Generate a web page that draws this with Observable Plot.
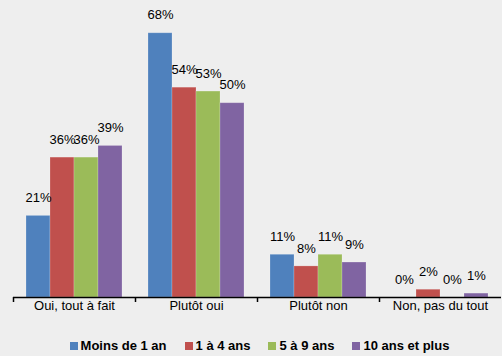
<!DOCTYPE html>
<html>
<head>
<meta charset="utf-8">
<script src="https://cdn.jsdelivr.net/npm/d3@7"></script>
<script src="https://cdn.jsdelivr.net/npm/@observablehq/plot@0.6"></script>
<style>
  html, body { margin: 0; padding: 0; background: #eeeeee; }
  #wrap { width: 502px; height: 356px; overflow: hidden; font-family: "Liberation Sans", Arial, sans-serif; }
  #wrap > div { font-family: "Liberation Sans", Arial, sans-serif !important; font-size: 13px !important; font-weight: bold !important;
        color: #000 !important; display: flex !important; align-items: center !important; justify-content: center !important;
        margin: 0 !important; padding: 0 0 0 17px !important; min-height: 0 !important; height: 16px !important; margin-top: 18px !important;
        line-height: 16px !important; }
  #wrap > div > span { display: inline-flex !important; align-items: center !important; margin-right: 18px !important; margin-left: 0 !important; }
  #wrap > div > span:last-child { margin-right: 0 !important; }
  #wrap > div > span > svg { margin-right: 3px !important; }
</style>
</head>
<body>
<div id="wrap"></div>
<script>
const categories = ["Oui, tout à fait", "Plutôt oui", "Plutôt non", "Non, pas du tout"];
const series = ["Moins de 1 an", "1 à 4 ans", "5 à 9 ans", "10 ans et plus"];
const moinsDe1An = [21, 68, 11, 0];
const de1a4Ans = [36, 54, 8, 2];
const de5a9Ans = [36, 53, 11, 0];
const dixAnsEtPlus = [39, 50, 9, 1];
const colors = ["#4F81BD", "#C0504D", "#9BBB59", "#8064A2"];

const seriesValues = [moinsDe1An, de1a4Ans, de5a9Ans, dixAnsEtPlus];
const data = [];
categories.forEach((c, i) => {
  series.forEach((s, j) => data.push({category: c, series: s, value: seriesValues[j][i]}));
});

const chart = Plot.plot({
  width: 502,
  height: 320,
  marginLeft: 11,
  marginRight: 0,
  marginTop: 25,
  marginBottom: 23,
  style: {background: "#eeeeee", fontFamily: "'Liberation Sans', Arial, sans-serif", fontSize: "13px", color: "#000", overflow: "visible"},
  fx: {domain: categories, padding: 0, label: null, axis: "bottom", tickSize: 0, tickPadding: 3},
  x: {domain: series, paddingInner: 0, paddingOuter: 0.5, axis: null},
  y: {domain: [0, 70], axis: null},
  color: {domain: series, range: colors},
  marks: [
    Plot.barY(data, {fx: "category", x: "series", y: "value", fill: "series", stroke: "#ffffff", strokeOpacity: 0.25, strokeWidth: 0.8}),
    Plot.text(data, {fx: "category", x: "series", y: "value", text: d => d.value + "%", dy: -18, fill: "#000", fontSize: 13}),
    Plot.ruleY([0], {stroke: "#000", strokeWidth: 1.5})
  ]
});

// Category boundary ticks, positioned from the library's fx and y scales
const fx = chart.scale("fx");
const yS = chart.scale("y");
const y0 = yS.apply(0);
const bounds = categories.map(c => fx.apply(c));
const g = d3.select(chart).append("g").attr("stroke", "#000").attr("stroke-width", 1.5);
g.selectAll("line").data(bounds).join("line")
  .attr("x1", d => d + 0.5).attr("x2", d => d + 0.5)
  .attr("y1", y0).attr("y2", y0 + 5);

const wrap = document.getElementById("wrap");
wrap.appendChild(chart);
const legend = chart.legend("color", {swatchSize: 8});
wrap.appendChild(legend);
</script>
</body>
</html>
